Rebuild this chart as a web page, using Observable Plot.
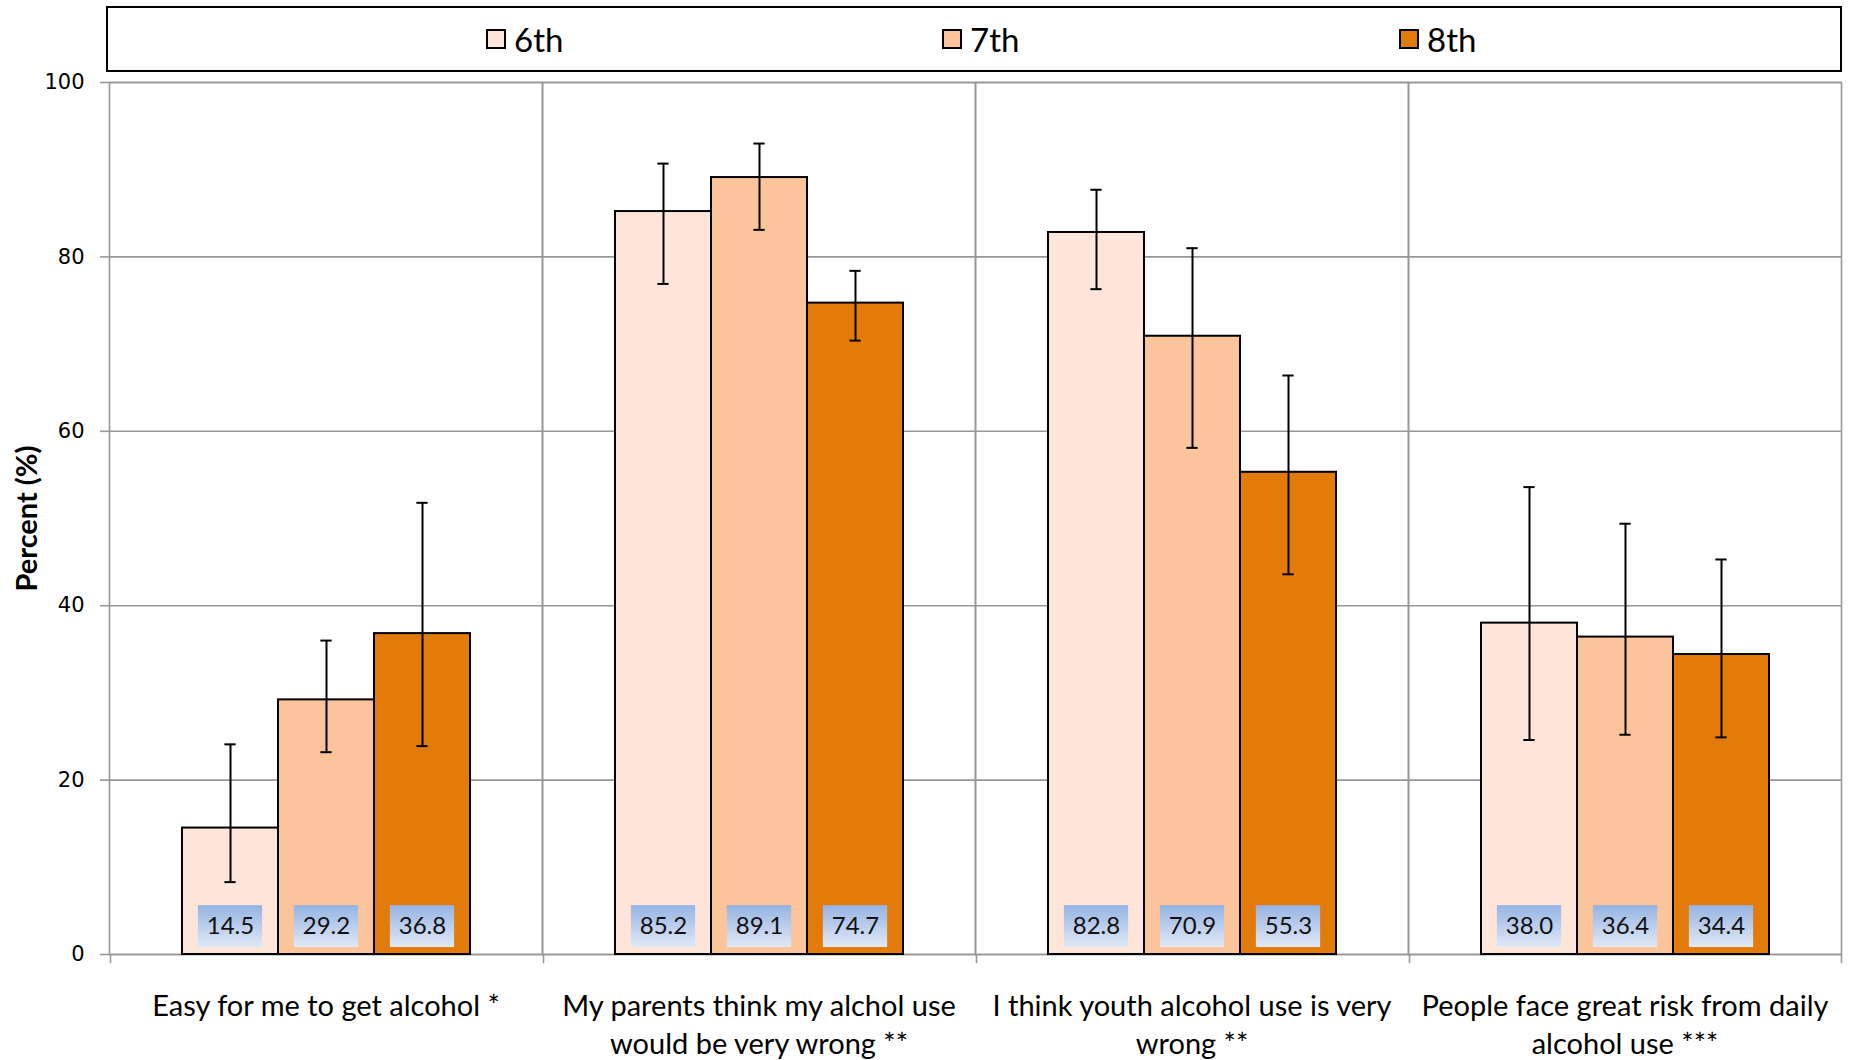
<!DOCTYPE html>
<html><head><meta charset="utf-8">
<script src="https://cdn.jsdelivr.net/npm/d3@7"></script>
<script src="https://cdn.jsdelivr.net/npm/@observablehq/plot@0.6"></script>
<style>
body{margin:0;background:#fff;}
#wrap{position:relative;width:1855px;height:1060px;overflow:hidden;background:#fff;font-family:Lato,sans-serif}
#legend{position:absolute;left:106px;top:6px;width:1732px;height:62px;border:2px solid #000;}
.item{position:absolute;top:0;height:62px;display:flex;align-items:center;font-size:33px;color:#000;}
.sw{width:16px;height:16px;border:2px solid #000;margin-right:8px;}
#chart{position:absolute;left:0;top:74px;}
</style>
</head><body>
<div id="wrap"><div id="legend"></div><div id="chart"></div></div>
<script>
const categories = [
  "Easy for me to get alcohol *",
  "My parents think my alchol use\nwould be very wrong **",
  "I think youth alcohol use is very\nwrong **",
  "People face great risk from daily\nalcohol use ***"
];
const grades = ["6th", "7th", "8th"];
const colors = ["#FDE5D9", "#FCC49B", "#E37B0A"];
const yTicks = [0, 20, 40, 60, 80, 100];

const values6 = [14.5, 85.2, 82.8, 38.0];
const values7 = [29.2, 89.1, 70.9, 36.4];
const values8 = [36.8, 74.7, 55.3, 34.4];
const lower6 = [8.3, 76.9, 76.3, 24.6];
const upper6 = [24.1, 90.7, 87.7, 53.6];
const lower7 = [23.2, 83.1, 58.1, 25.2];
const upper7 = [36.0, 93.0, 81.0, 49.4];
const lower8 = [23.9, 70.4, 43.6, 24.9];
const upper8 = [51.8, 78.4, 66.4, 45.3];

const series = [[values6, lower6, upper6], [values7, lower7, upper7], [values8, lower8, upper8]];
const rows = [];
categories.forEach((c, i) => grades.forEach((g, j) => {
  rows.push({category: c, grade: g, value: series[j][0][i], lo: series[j][1][i], hi: series[j][2][i]});
}));

// legend
const legendPos = [378, 834, 1291];
const leg = document.getElementById("legend");
grades.forEach((g, j) => {
  const it = document.createElement("div");
  it.className = "item";
  it.style.left = legendPos[j] + "px";
  it.innerHTML = `<span class="sw" style="background:${colors[j]}"></span><span>${g}</span>`;
  leg.appendChild(it);
});

const W = 1855, ML = 108, MR = 13, PO = 0.74;
const step = (W - ML - MR) / categories.length / (grades.length + 2 * PO);
const grid = "#979797";
const capInset = (step - 12) / 2;
const lblInset = (step - 65) / 2;

const chart = Plot.plot({
  width: W, height: 986,
  marginTop: 8, marginBottom: 106, marginLeft: ML, marginRight: MR,
  style: {fontFamily: "Lato, sans-serif", background: "transparent", overflow: "visible"},
  fx: {domain: categories, padding: 0, axis: null, label: null},
  x: {domain: grades, paddingInner: 0, paddingOuter: PO, axis: null},
  y: {domain: [0, 100], axis: null},
  color: {domain: grades, range: colors},
  marks: [
    Plot.ruleY(yTicks, {stroke: grid, strokeWidth: 1.6}),
    Plot.frame({stroke: grid, strokeWidth: 1.6}),
    Plot.ruleX(rows.filter(d => d.grade === grades[0]), {fx: "category", x: "grade", y1: 0, y2: -1.05, dx: -(0.5 + PO) * step, stroke: grid, strokeWidth: 1.6}),
    Plot.ruleX(rows.filter(d => d.grade === grades[2] && d.category === categories[3]), {fx: "category", x: "grade", y1: 0, y2: -1.05, dx: (0.5 + PO) * step, stroke: grid, strokeWidth: 1.6}),
    Plot.axisY({ticks: yTicks, tickSize: 9, tickPadding: 16, stroke: grid, strokeWidth: 1.6, fill: "#000", fontSize: 21, fontFamily: "DejaVu Sans", label: null, tickFormat: d => String(d)}),
    Plot.barY(rows, {fx: "category", x: "grade", y: "value", fill: "grade", stroke: "#000", strokeWidth: 2}),
    Plot.barY(rows, {fx: "category", x: "grade", y1: 0.8, y2: 5.6, fill: "url(#lblgrad)", insetLeft: lblInset, insetRight: lblInset}),
    Plot.text(rows, {fx: "category", x: "grade", y: 0, dy: -28, text: d => d.value.toFixed(1), fontSize: 24, fill: "#111"}),
    Plot.ruleX(rows, {fx: "category", x: "grade", y1: "lo", y2: "hi", stroke: "#000", strokeWidth: 2}),
    Plot.tickY(rows, {fx: "category", x: "grade", y: "hi", stroke: "#000", strokeWidth: 2, insetLeft: capInset, insetRight: capInset}),
    Plot.tickY(rows, {fx: "category", x: "grade", y: "lo", stroke: "#000", strokeWidth: 2, insetLeft: capInset, insetRight: capInset}),
    Plot.text(categories, {fx: d => d, frameAnchor: "bottom", text: d => d, dy: 35, lineAnchor: "top", lineHeight: 1.31, fontSize: 29, fill: "#000"}),
    Plot.text([categories[0]], {fx: d => d, frameAnchor: "left", textAnchor: "middle", text: () => "Percent (%)", rotate: -90, dx: -82, fontSize: 29, fontWeight: "bold", fill: "#000"})
  ]
});

const ns = "http://www.w3.org/2000/svg";
const defs = document.createElementNS(ns, "defs");
const lg = document.createElementNS(ns, "linearGradient");
lg.setAttribute("id", "lblgrad");
lg.setAttribute("x1", "0"); lg.setAttribute("y1", "0"); lg.setAttribute("x2", "0"); lg.setAttribute("y2", "1");
[["0", "#95B3E3"], ["1", "#E1E9F5"]].forEach(([o, c]) => {
  const s = document.createElementNS(ns, "stop");
  s.setAttribute("offset", o); s.setAttribute("stop-color", c);
  lg.appendChild(s);
});
defs.appendChild(lg);
chart.insertBefore(defs, chart.firstChild);
document.getElementById("chart").appendChild(chart);
</script>
</body></html>
